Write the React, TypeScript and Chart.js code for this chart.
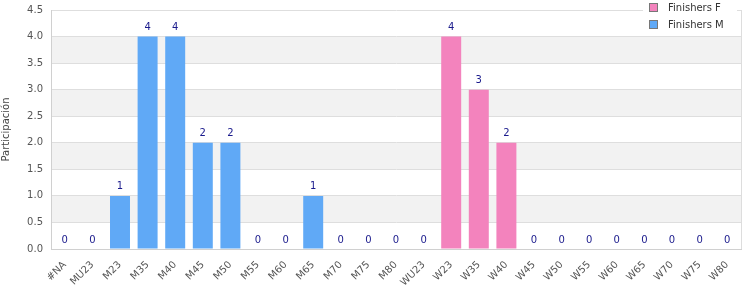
import React, { useEffect, useRef } from "react";
import { Chart, registerables } from "chart.js";

Chart.register(...registerables);

const categories = [
  "#NA", "MU23", "M23", "M35", "M40", "M45", "M50", "M55", "M60", "M65", "M70", "M75", "M80",
  "WU23", "W23", "W35", "W40", "W45", "W50", "W55", "W60", "W65", "W70", "W75", "W80",
];
const finishersF: (number | null)[] = [
  null, null, null, null, null, null, null, null, null, null, null, null, null,
  0, 4, 3, 2, 0, 0, 0, 0, 0, 0, 0, 0,
];
const finishersM: (number | null)[] = [
  0, 0, 1, 4, 4, 2, 2, 0, 0, 1, 0, 0, 0,
  null, null, null, null, null, null, null, null, null, null, null, null,
];
const seriesNames = ["Finishers F", "Finishers M"];
const seriesColors = ["#F383BD", "#60A9F6"];
const yAxisTitle = "Participación";

const FONT = "'DejaVu Sans', Verdana, sans-serif";

const bandsPlugin = {
  id: "bands",
  beforeDraw(chart: any) {
    const { ctx, chartArea } = chart;
    const y = chart.scales.y;
    ctx.save();
    ctx.fillStyle = "#F2F2F2";
    for (let v = 0.5; v < 4.5; v += 1) {
      const y1 = y.getPixelForValue(v + 0.5);
      const y0 = y.getPixelForValue(v);
      ctx.fillRect(chartArea.left, y1, chartArea.right - chartArea.left, y0 - y1);
    }
    ctx.restore();
  },
};

const labelsPlugin = {
  id: "valueLabels",
  afterDatasetsDraw(chart: any) {
    const { ctx } = chart;
    ctx.save();
    ctx.font = `10px ${FONT}`;
    ctx.fillStyle = "#1A1A8C";
    ctx.textAlign = "center";
    ctx.textBaseline = "bottom";
    chart.data.datasets.forEach((ds: any, di: number) => {
      const meta = chart.getDatasetMeta(di);
      ds.data.forEach((v: number | null, i: number) => {
        if (v === null || v === undefined) return;
        const el = meta.data[i];
        ctx.fillText(String(v), el.x, el.y - 4);
      });
    });
    ctx.restore();
  },
  afterDraw(chart: any) {
    const { ctx, chartArea } = chart;
    ctx.save();
    ctx.strokeStyle = "#DDDDDD";
    ctx.lineWidth = 1;
    ctx.beginPath();
    ctx.moveTo(chartArea.right + 0.5, chartArea.top);
    ctx.lineTo(chartArea.right + 0.5, chartArea.bottom);
    ctx.stroke();
    const lx = 643, ly = 0, lw = 94, lh = 36;
    ctx.fillStyle = "#FFFFFF";
    ctx.fillRect(lx, ly, lw, lh);
    ctx.font = `10px ${FONT}`;
    ctx.textBaseline = "middle";
    ctx.textAlign = "left";
    seriesNames.forEach((name, i) => {
      const by = 4 + i * 17;
      ctx.fillStyle = seriesColors[i];
      ctx.fillRect(650, by, 7, 7);
      ctx.strokeStyle = "#777777";
      ctx.strokeRect(649.5, by - 0.5, 8, 8);
      ctx.fillStyle = "#333333";
      ctx.fillText(name, 668, by + 4);
    });
    ctx.restore();
  },
};

export default function App() {
  const ref = useRef<HTMLCanvasElement>(null);
  useEffect(() => {
    if (!ref.current) return;
    const chart = new Chart(ref.current, {
      type: "bar",
      data: {
        labels: categories,
        datasets: [
          { label: seriesNames[0], data: finishersF as any, backgroundColor: seriesColors[0], borderWidth: 0 },
          { label: seriesNames[1], data: finishersM as any, backgroundColor: seriesColors[1], borderWidth: 0 },
        ],
      },
      options: {
        responsive: false,
        animation: false,
        layout: { padding: { top: 10, right: 9, left: 0, bottom: 0 } },
        datasets: { bar: { categoryPercentage: 0.8, barPercentage: 0.905 } } as any,
        plugins: { legend: { display: false }, tooltip: { enabled: false } },
        scales: {
          x: {
            stacked: true,
            grid: { display: false, drawTicks: false },
            border: { display: true, color: "#D0D0D0" },
            ticks: {
              font: { family: FONT, size: 10 },
              color: "#555555",
              maxRotation: 45,
              minRotation: 45,
              autoSkip: false,
              padding: 10,
            },
            afterFit: (s: any) => { s.height = 51; s.paddingLeft = 0; s.paddingRight = 0; },
          },
          y: {
            stacked: true,
            min: 0,
            max: 4.5,
            grid: { color: "#DEDEDE", drawTicks: false },
            border: { display: true, color: "#D0D0D0" },
            ticks: {
              stepSize: 0.5,
              font: { family: FONT, size: 10 },
              color: "#555555",
              padding: 8,
              callback: (v: any) => Number(v).toFixed(1),
            },
            title: {
              display: true,
              text: yAxisTitle,
              font: { family: FONT, size: 10 },
              color: "#444444",
              padding: { top: 0, bottom: 0 },
            },
            afterFit: (s: any) => { s.width = 51; s.paddingTop = 0; s.paddingBottom = 0; },
          },
        },
      },
      plugins: [bandsPlugin, labelsPlugin],
    });
    return () => chart.destroy();
  }, []);
  return (
    <div style={{ position: "absolute", left: 0, top: 0, width: 750, height: 300 }}>
      <canvas ref={ref} width={750} height={300} />
    </div>
  );
}
